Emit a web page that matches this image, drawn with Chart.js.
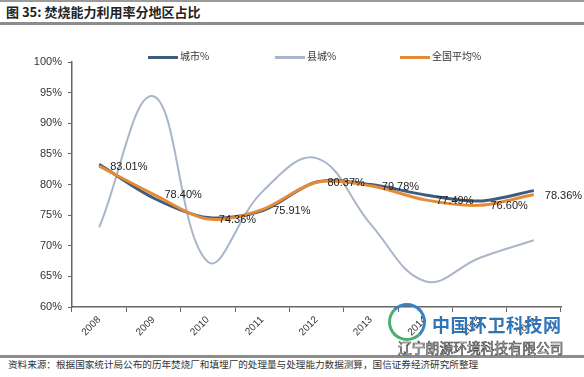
<!DOCTYPE html>
<html>
<head>
<meta charset="utf-8">
<script src="https://cdn.jsdelivr.net/npm/chart.js@4.4.1/dist/chart.umd.min.js"></script>
<style>
  html, body { margin: 0; padding: 0; background: #fff; }
  body { width: 584px; height: 377px; position: relative; overflow: hidden; font-family: 'Noto Sans CJK SC', sans-serif; }
  .topline { position: absolute; left: 0; top: 0; width: 584px; height: 2px; background: #9a9a9a; }
  .title { position: absolute; left: 6px; top: 3px; font-size: 13px; font-weight: bold; color: #222; line-height: 18px; }
  .titleline { position: absolute; left: 0; top: 22px; width: 584px; height: 3px; background: #8c8c8c; }
  .wrap { position: absolute; left: 0; top: 0; width: 584px; height: 340px; }
  .legend { position: absolute; top: 48px; left: 0; height: 16px; font-size: 10px; color: #333; }
  .legend span.item { position: absolute; white-space: nowrap; line-height: 16px; }
  .legend i { display: inline-block; width: 30px; height: 3px; vertical-align: middle; margin-right: 2px; }
  .bottomline { position: absolute; left: 0; top: 355px; width: 584px; height: 3px; background: #8c8c8c; }
  .source { position: absolute; left: 8px; top: 358px; font-size: 9.6px; color: #333; line-height: 12px; white-space: nowrap; }
  .wm1 { position: absolute; left: 432px; top: 311px; font-size: 18px; font-weight: bold; color: #2f74b5; letter-spacing: 0.5px; white-space: nowrap; }
  .wm2 { position: absolute; left: 398px; top: 338px; font-size: 13.8px; line-height: 18px; color: #fff; -webkit-text-stroke: 0.7px #444; white-space: nowrap; }
  .logo { position: absolute; left: 388px; top: 303px; width: 38px; height: 38px; border-radius: 50%; border: 3px solid #3b82c4; border-left-color: #4caf6d; border-bottom-color: #4caf6d; box-sizing: border-box; }
</style>
</head>
<body>
<div class="topline"></div>
<div class="title">图 35:  焚烧能力利用率分地区占比</div>
<div class="titleline"></div>
<div class="wrap"><canvas id="c"></canvas></div>
<div class="legend" id="legend"></div>
<div class="bottomline"></div>
<div class="source">资料来源：根据国家统计局公布的历年焚烧厂和填埋厂的处理量与处理能力数据测算，国信证券经济研究所整理</div>
<div class="logo"></div>
<div class="wm1">中国环卫科技网</div>
<div class="wm2">辽宁朗源环境科技有限公司</div>
<script>
const years = ['2008', '2009', '2010', '2011', '2012', '2013', '2014', '2015', '2016']
const city = [83.3, 77.8, 74.6, 75.7, 80.4, 80.0, 78.3, 77.3, 79.0]
const county = [73.0, 94.4, 67.4, 78.8, 84.3, 73.5, 64.2, 68.0, 70.9]
const national = [83.01, 78.40, 74.36, 75.91, 80.37, 79.78, 77.49, 76.60, 78.36]
const yTicks = [60, 65, 70, 75, 80, 85, 90, 95, 100]

const blue = '#3e5b80'
const grey = '#a9b5c9'
const orange = '#e58b35'
const axisColor = '#666'

const valueLabels = {
  id: 'valueLabels',
  afterDatasetsDraw(chart) {
    const ctx = chart.ctx
    const meta = chart.getDatasetMeta(2)
    ctx.save()
    ctx.font = '11px Arial'
    ctx.fillStyle = '#222'
    ctx.textAlign = 'left'
    ctx.textBaseline = 'middle'
    meta.data.forEach((pt, i) => {
      ctx.fillText(national[i].toFixed(2) + '%', pt.x + 11, pt.y + 1)
    })
    ctx.restore()
  }
}

const chart = new Chart(document.getElementById('c'), {
  type: 'line',
  data: {
    labels: years,
    datasets: [
      { label: '城市%', data: city, borderColor: blue, borderWidth: 3, tension: 0.3, pointRadius: 0, order: 1 },
      { label: '县城%', data: county, borderColor: grey, borderWidth: 2, tension: 0.4, pointRadius: 0, order: 2 },
      { label: '全国平均%', data: national, borderColor: orange, borderWidth: 3, tension: 0.3, pointRadius: 0, order: 0 },
    ]
  },
  options: {
    responsive: true,
    maintainAspectRatio: false,
    animation: false,
    layout: { padding: { top: 62, left: 32, right: 23, bottom: 0 } },
    plugins: {
      legend: { display: false },
      tooltip: { enabled: false },
    },
    scales: {
      x: {
        offset: true,
        grid: { offset: true, drawOnChartArea: false, tickLength: 5, color: axisColor },
        border: { color: axisColor, width: 1.5 },
        ticks: { minRotation: 45, maxRotation: 45, padding: 2, color: '#333', font: { family: 'Arial', size: 10 } },
        afterFit: s => { s.height = 33 },
      },
      y: {
        min: 60,
        max: 100,
        afterBuildTicks: s => { s.ticks = yTicks.map(v => ({ value: v })) },
        grid: { drawOnChartArea: false, tickLength: 4, color: axisColor },
        border: { color: axisColor, width: 1.5 },
        ticks: { padding: 6, color: '#333', font: { family: 'Arial', size: 11 }, callback: v => v + '%' },
        afterFit: s => { s.width = 40 },
      }
    }
  },
  plugins: [valueLabels]
})

// legend built from the datasets
const legendX = [148, 275, 400]
const legend = document.getElementById('legend')
chart.data.datasets.forEach((ds, i) => {
  const el = document.createElement('span')
  el.className = 'item'
  el.style.left = legendX[i] + 'px'
  el.innerHTML = '<i style="background:' + ds.borderColor + '"></i>' + ds.label
  legend.appendChild(el)
})
</script>
</body>
</html>
